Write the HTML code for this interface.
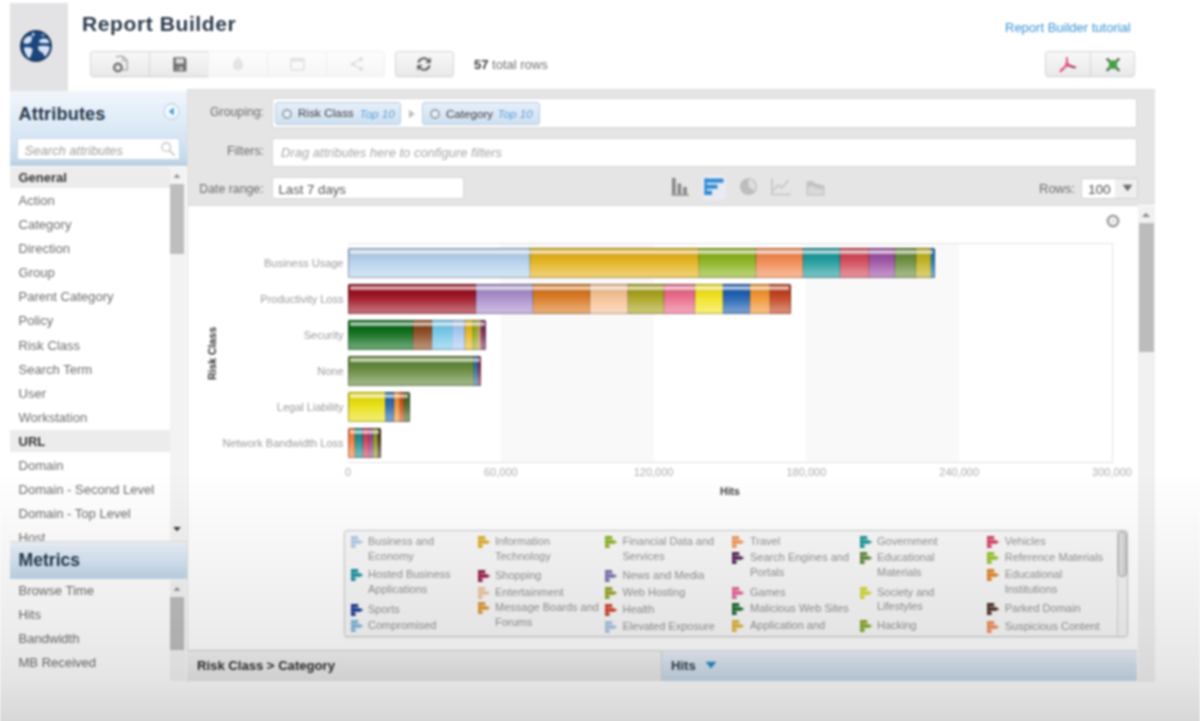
<!DOCTYPE html>
<html>
<head>
<meta charset="utf-8">
<title>Report Builder</title>
<style>
*{box-sizing:border-box;margin:0;padding:0}
html,body{width:1200px;height:721px;overflow:hidden}
body{font-family:"Liberation Sans",sans-serif;color:#555;background:#fff;position:relative}
.a,.t{position:absolute}
.t{white-space:nowrap}
svg{position:absolute;overflow:visible}
#w{position:absolute;left:0;top:0;width:1200px;height:741px;overflow:hidden;filter:blur(.9px)}
.btn{position:absolute;top:51px;height:26px;border:1px solid #d6d6d6;background:linear-gradient(#f8f8f8,#e9e9e9);box-shadow:0 1px 1px rgba(0,0,0,.05)}
.btn.dis{border-color:#efefef;background:linear-gradient(#fdfdfd,#f6f6f6);box-shadow:none}
.box{position:absolute;background:#fff;border:1px solid #d6d6d6;border-radius:2px}
.chip{position:absolute;top:102px;height:23px;border:1px solid #b3cbe3;border-radius:3px;background:linear-gradient(#e6eff9,#cfe0f1)}
.seg{position:absolute;top:0;height:100%}
.bar{position:absolute;height:29.6px;left:348px;overflow:hidden;border-radius:1.5px}
.gloss{position:absolute;left:0;top:0;width:100%;height:100%;border-radius:2px;
 background:linear-gradient(to bottom,rgba(0,0,0,.08) 0,rgba(0,0,0,.07) 6px,rgba(0,0,0,.03) 10px,rgba(255,255,255,.1) 16px,rgba(255,255,255,.34) 25px,rgba(255,255,255,.36) 29px)}
.gloss:before{content:"";position:absolute;left:1.6px;right:1.6px;top:1.9px;height:3.8px;background:rgba(255,255,255,.6);border-radius:1px}
.gloss:after{content:"";position:absolute;left:0;top:0;right:0;bottom:0;border:1.6px solid rgba(0,0,0,.27);border-radius:2px}
</style>
</head>
<body>
<div id="w">
<div class="a" style="left:10px;top:3px;width:58px;height:88px;background:#e3e2e4"></div>
<svg style="left:19px;top:29.3px" width="34" height="34" viewBox="-17 -17 34 34">
<circle r="16.8" fill="#eef3f9"/>
<circle r="16" fill="#1b3657"/>
<circle r="14" fill="#1b467c"/>
<path d="M-12.6,-4 C-12,-8 -8.5,-10.2 -5.4,-10 C-3.6,-9.4 -4,-7 -4.4,-5.4 C-4.8,-3.6 -6.4,-2.4 -8.6,-2.2 C-10.4,-2 -12.2,-2.4 -12.6,-4 Z" fill="#d3e2f5"/>
<path d="M-12,1.6 C-9.6,1 -5.6,1.2 -3.6,2.8 C-3,5.4 -4.6,8 -5.4,10.2 C-6,12 -7.4,12.6 -8.4,11 C-10.4,8.4 -12,5 -12,1.6 Z" fill="#d9e4f6"/>
<path d="M3.4,-5.6 C4.6,-7.4 8,-7.8 10.4,-7.2 C12.4,-6.4 13.4,-4.6 13.2,-3 C10.4,-2.6 6.4,-2.6 3.6,-3.2 C3,-4 3,-4.8 3.4,-5.6 Z" fill="#cfdff3"/>
<path d="M2,0.4 C5,-0.6 10,-0.4 13.6,0.6 C14,3 13,5.4 11.8,7 C10.8,8.6 10,10.6 8.6,10.4 C7.6,9 7.6,7.4 6.2,6.6 C4,5.8 1.8,3.6 2,0.4 Z" fill="#d6e3f6"/>
<path d="M-3.8,-13.4 C-2.6,-13.8 -1.4,-13 -1.4,-11.6 C-1.6,-10.2 -2.8,-9.2 -3.6,-9.6 C-4.2,-10.8 -4.4,-12.4 -3.8,-13.4 Z" fill="#bcd3ee"/>
<path d="M5.4,-11.8 C6.6,-12.4 8.4,-12 9,-10.8 C8.2,-9.6 6.2,-9.4 5.4,-10.2 Z" fill="#7fa6d6"/>
</svg>
<div class="t" style="left:82px;top:12.72px;font-size:21px;line-height:1;color:#2a3a4b;font-weight:bold;letter-spacing:.6px;">Report Builder</div>
<div class="t" style="left:1005px;top:21.00px;font-size:13px;line-height:1;color:#3a93d6;">Report Builder tutorial</div>
<div class="btn" style="left:90px;width:60px;border-radius:3px 0 0 3px"></div>
<div class="btn" style="left:149px;width:60px"></div>
<div class="btn dis" style="left:208px;width:60px"></div>
<div class="btn dis" style="left:267px;width:60px"></div>
<div class="btn dis" style="left:326px;width:59px;border-radius:0 3px 3px 0"></div>
<div class="btn" style="left:395px;width:59px;border-radius:3px"></div>
<div class="btn" style="left:1045px;width:46px;border-radius:3px 0 0 3px"></div>
<div class="btn" style="left:1090px;width:45px;border-radius:0 3px 3px 0"></div>
<svg style="left:111px;top:55px" width="18" height="17" viewBox="0 0 18 17">
<path d="M5.2,2.2 L6.2,1.4 H12 L16.2,5.6 V14.8 H11" fill="none" stroke="#a3a3a3" stroke-width="1.3"/>
<path d="M11.8,1.6 V5.8 H16" fill="none" stroke="#a3a3a3" stroke-width="1.1"/>
<circle cx="6.9" cy="12.5" r="3.7" fill="none" stroke="#707070" stroke-width="2.4"/>
</svg>
<svg style="left:172.5px;top:56.6px" width="14" height="15" viewBox="0 0 14 15">
<path d="M0.3,0.6 Q0.3,0.2 0.8,0.2 H11.6 L13.4,2 V14 Q13.4,14.5 12.9,14.5 H0.8 Q0.3,14.5 0.3,14 Z" fill="#6c6c6c"/>
<rect x="2.8" y="1.6" width="8" height="5" fill="#dcdcdc"/>
<rect x="3.2" y="9" width="7.4" height="5.5" fill="#8a8a8a"/>
<rect x="7.4" y="10" width="1.9" height="3.4" fill="#d9d9d9"/>
</svg>
<svg style="left:231px;top:56px" width="14" height="16" viewBox="0 0 14 16"><path d="M7,1 C9,3 12,5.5 12,9.5 A5,5 0 0 1 2,9.5 C2,5.5 5,3 7,1 Z" fill="#e4e4e4"/></svg>
<svg style="left:290px;top:57px" width="15" height="14" viewBox="0 0 15 14"><rect x="1" y="1.5" width="13" height="11.5" rx="1.5" fill="none" stroke="#e2e2e2" stroke-width="1.6"/><rect x="1" y="1.5" width="13" height="3" fill="#e2e2e2"/></svg>
<svg style="left:349px;top:56px" width="15" height="16" viewBox="0 0 15 16"><path d="M12,3 L3.5,8 L12,13" fill="none" stroke="#e0e0e0" stroke-width="1.5"/><circle cx="12" cy="3" r="2.2" fill="#e0e0e0"/><circle cx="3.5" cy="8" r="2.2" fill="#e0e0e0"/><circle cx="12" cy="13" r="2.2" fill="#e0e0e0"/></svg>
<svg style="left:416px;top:56px" width="16" height="16" viewBox="-8 -8 16 16">
<path d="M-5.6,-1.2 A5.7,5.7 0 0 1 4.2,-3.9" fill="none" stroke="#5e5e5e" stroke-width="2.1"/>
<path d="M5.6,1.2 A5.7,5.7 0 0 1 -4.2,3.9" fill="none" stroke="#5e5e5e" stroke-width="2.1"/>
<path d="M6.8,-6.6 V-1 H1.2 Z" fill="#5e5e5e"/>
<path d="M-6.8,6.6 V1 H-1.2 Z" fill="#5e5e5e"/>
</svg>
<div class="t" style="left:474px;top:58.00px;font-size:13px;line-height:1;color:#707070;"><b style='color:#3a3a3a'>57</b> total rows</div>
<svg style="left:1058px;top:56px" width="20" height="18" viewBox="0 0 20 18">
<path d="M8.6,0.8 C10,0.6 10.2,2.8 9.8,5.4 C10.6,7.6 12,9 14.2,9.8 C16.4,10.2 18.6,10.6 18.2,11.8 C17.6,12.8 15.4,12.2 13.4,11.4 C11.6,10.8 9.8,10.6 8,11.2 C6.2,13.2 3.8,16.4 1.9,16.2 C0.4,15.6 2.4,12.8 6,10.8 C7.2,8.6 7.9,6.4 8.1,4.4 C7.7,2.6 7.7,1.1 8.6,0.8 Z" fill="#e0527f"/>
<path d="M11.6,8.6 C13.2,9.6 16.4,10 18.2,11 C18.4,12.4 16.4,12.4 13.6,11.4 C12.4,11 11.4,10.4 10.8,9.8 Z" fill="#8e3557" opacity=".8"/>
</svg>
<svg style="left:1105.8px;top:57.6px" width="14" height="13.4" viewBox="0 0 16 15">
<path d="M1.6,1.2 L14.4,13.8 M14.4,1.2 L1.6,13.8" stroke="#4b6d4b" stroke-width="2.8" stroke-linecap="round"/>
<path d="M8,1.6 L13.2,7.5 L8,13.4 L2.8,7.5 Z" fill="#3ea23e"/>
<rect x="4" y="3.6" width="8" height="7.8" rx="1" fill="#3ea23e" opacity=".85"/>
</svg>
<div class="a" style="left:10px;top:91px;width:177px;height:590px;background:#fff"></div>
<div class="a" style="left:10px;top:91px;width:177px;height:75px;background:linear-gradient(#f1f6fc 0,#e2edf8 35%,#d3e3f2 70%,#c4d9ea 92%,#b7cddf 100%)"></div>
<div class="t" style="left:18.5px;top:104.51px;font-size:18px;line-height:1;color:#24374b;font-weight:bold;letter-spacing:.2px;">Attributes</div>
<svg style="left:163px;top:103px" width="17" height="17" viewBox="-8.5 -8.5 17 17">
<circle r="7.6" fill="#f4f9fd" stroke="#b9d3ea" stroke-width="1.2"/>
<path d="M2.2,-4 L-2.6,0 L2.2,4 Z" fill="#3b98d8"/>
</svg>
<div class="a" style="left:17px;top:138px;width:163px;height:22px;background:#fff;border:1px solid #c3d7e8;border-radius:2px"></div>
<div class="t" style="left:24.5px;top:144.00px;font-size:13px;line-height:1;color:#a3a3a3;font-style:italic;">Search attributes</div>
<svg style="left:160px;top:141px" width="16" height="16" viewBox="0 0 16 16"><circle cx="6.2" cy="6.2" r="4.3" fill="none" stroke="#cdcdcd" stroke-width="1.6"/><path d="M9.4,9.4 L14,14" stroke="#cdcdcd" stroke-width="2" stroke-linecap="round"/></svg>
<div class="a" style="left:10px;top:167px;width:160px;height:21px;background:#ececec"></div>
<div class="t" style="left:18.5px;top:171.00px;font-size:13px;line-height:1;color:#333;font-weight:bold;">General</div>
<div class="t" style="left:18.5px;top:193.85px;font-size:13.05px;line-height:1;color:#6c6c6c;">Action</div>
<div class="t" style="left:18.5px;top:217.97px;font-size:13.05px;line-height:1;color:#6c6c6c;">Category</div>
<div class="t" style="left:18.5px;top:242.09px;font-size:13.05px;line-height:1;color:#6c6c6c;">Direction</div>
<div class="t" style="left:18.5px;top:266.21px;font-size:13.05px;line-height:1;color:#6c6c6c;">Group</div>
<div class="t" style="left:18.5px;top:290.33px;font-size:13.05px;line-height:1;color:#6c6c6c;">Parent Category</div>
<div class="t" style="left:18.5px;top:314.45px;font-size:13.05px;line-height:1;color:#6c6c6c;">Policy</div>
<div class="t" style="left:18.5px;top:338.57px;font-size:13.05px;line-height:1;color:#6c6c6c;">Risk Class</div>
<div class="t" style="left:18.5px;top:362.69px;font-size:13.05px;line-height:1;color:#6c6c6c;">Search Term</div>
<div class="t" style="left:18.5px;top:386.81px;font-size:13.05px;line-height:1;color:#6c6c6c;">User</div>
<div class="t" style="left:18.5px;top:410.93px;font-size:13.05px;line-height:1;color:#6c6c6c;">Workstation</div>
<div class="a" style="left:10px;top:430px;width:160px;height:22px;background:#ececec"></div>
<div class="t" style="left:18.5px;top:435.40px;font-size:13px;line-height:1;color:#333;font-weight:bold;">URL</div>
<div class="t" style="left:18.5px;top:458.55px;font-size:13.05px;line-height:1;color:#6c6c6c;">Domain</div>
<div class="t" style="left:18.5px;top:482.60px;font-size:13.05px;line-height:1;color:#6c6c6c;">Domain - Second Level</div>
<div class="t" style="left:18.5px;top:506.65px;font-size:13.05px;line-height:1;color:#6c6c6c;">Domain - Top Level</div>
<div class="t" style="left:18.5px;top:530.70px;font-size:13.05px;line-height:1;color:#6c6c6c;">Host</div>
<div class="a" style="left:170px;top:167px;width:16px;height:374px;background:#f3f3f3"></div>
<div class="a" style="left:170px;top:184px;width:14px;height:70px;background:#bebebe"></div>
<svg style="left:172px;top:172px" width="10" height="8" viewBox="0 0 10 8"><path d="M5,2 L8.4,5.8 H1.6 Z" fill="#8a8a8a"/></svg>
<svg style="left:172px;top:525px" width="10" height="8" viewBox="0 0 10 8"><path d="M1.2,2 H8.8 L5,6.2 Z" fill="#333"/></svg>
<div class="a" style="left:10px;top:540.5px;width:177px;height:38.5px;background:linear-gradient(#f2f6fb 0,#e6eff8 12%,#d7e6f4 50%,#bfd5e8 100%);border-top:1px solid #dcdcdc"></div>
<div class="t" style="left:18.5px;top:551.60px;font-size:17.6px;line-height:1;color:#24374b;font-weight:bold;">Metrics</div>
<div class="t" style="left:18.5px;top:583.75px;font-size:13.05px;line-height:1;color:#6c6c6c;">Browse Time</div>
<div class="t" style="left:18.5px;top:607.95px;font-size:13.05px;line-height:1;color:#6c6c6c;">Hits</div>
<div class="t" style="left:18.5px;top:632.15px;font-size:13.05px;line-height:1;color:#6c6c6c;">Bandwidth</div>
<div class="t" style="left:18.5px;top:656.35px;font-size:13.05px;line-height:1;color:#6c6c6c;">MB Received</div>
<div class="a" style="left:170px;top:580px;width:16px;height:101px;background:#f3f3f3"></div>
<div class="a" style="left:170px;top:597px;width:14px;height:53px;background:#bebebe"></div>
<svg style="left:172px;top:585px" width="10" height="8" viewBox="0 0 10 8"><path d="M5,2 L8.4,5.8 H1.6 Z" fill="#8a8a8a"/></svg>
<div class="a" style="left:187px;top:90px;width:968px;height:592px;background:#ffffff"></div>
<div class="a" style="left:187px;top:89px;width:968px;height:116px;background:#e5e5e6;border-top:1px solid #dcdcdc"></div>
<div class="a" style="left:187px;top:205px;width:951px;height:1px;background:#d9d9d9"></div>
<div class="a" style="left:187px;top:90px;width:1px;height:592px;background:#dcdcdc"></div>
<div class="t" style="left:174px;width:90px;text-align:right;top:105.99px;font-size:12.3px;line-height:1;color:#6b6b6b;">Grouping:</div>
<div class="t" style="left:174px;width:90px;text-align:right;top:145.19px;font-size:12.3px;line-height:1;color:#6b6b6b;">Filters:</div>
<div class="t" style="left:173.60000000000002px;width:90px;text-align:right;top:182.69px;font-size:12.3px;line-height:1;color:#6b6b6b;">Date range:</div>
<div class="box" style="left:272px;top:98px;width:865px;height:30px"></div>
<div class="box" style="left:272px;top:138px;width:865px;height:29px"></div>
<div class="box" style="left:272px;top:177px;width:192px;height:22px"></div>
<div class="t" style="left:281px;top:146.00px;font-size:13px;line-height:1;color:#a5a5a5;font-style:italic;">Drag attributes here to configure filters</div>
<div class="t" style="left:278.5px;top:182.83px;font-size:13.2px;line-height:1;color:#555;">Last 7 days</div>
<div class="chip" style="left:275px;width:126px"></div>
<div class="chip" style="left:422px;width:118px"></div>
<svg style="left:281px;top:107.8px" width="12" height="12" viewBox="-6 -6 12 12"><circle r="4.1" fill="#e8eff7" stroke="#969ea6" stroke-width="1.7"/></svg>
<svg style="left:428.5px;top:107.8px" width="12" height="12" viewBox="-6 -6 12 12"><circle r="4.1" fill="#e8eff7" stroke="#969ea6" stroke-width="1.7"/></svg>
<div class="t" style="left:298px;top:108.31px;font-size:11.8px;line-height:1;color:#3a3a3a;">Risk Class</div>
<div class="t" style="left:359.5px;top:108.40px;font-size:11.7px;line-height:1;color:#5b9fd6;font-style:italic;">Top 10</div>
<div class="t" style="left:446px;top:108.48px;font-size:11.6px;line-height:1;color:#3a3a3a;">Category</div>
<div class="t" style="left:497.5px;top:108.40px;font-size:11.7px;line-height:1;color:#5b9fd6;font-style:italic;">Top 10</div>
<svg style="left:408px;top:109px" width="8" height="10" viewBox="0 0 8 10"><path d="M1,0.8 L7,5 L1,9.2 Z" fill="#bdbdbd"/></svg>
<svg style="left:671px;top:177px" width="19" height="20" viewBox="0 0 19 20">
<rect x="1" y="1" width="3.6" height="16" fill="#868686"/><rect x="6.6" y="6.5" width="3.6" height="10.5" fill="#868686"/><rect x="12.2" y="10" width="3.6" height="7" fill="#868686"/><rect x="0.5" y="17" width="17.5" height="1.8" fill="#9a9a9a"/></svg>
<div class="a" style="left:702px;top:175px;width:24px;height:25px;background:#e9eaf2;border-radius:3px"></div>
<svg style="left:704px;top:178px" width="20" height="18" viewBox="0 0 20 18">
<rect x="0.5" y="0.5" width="19" height="4.2" fill="#2f8cd6"/><rect x="0.5" y="6.6" width="13" height="4.2" fill="#2f8cd6"/><rect x="0.5" y="12.7" width="7.5" height="4.2" fill="#2f8cd6"/><rect x="0.5" y="0.5" width="2.4" height="16.4" fill="#2f8cd6"/></svg>
<svg style="left:739px;top:177px" width="19" height="19" viewBox="-9.5 -9.5 19 19">
<circle r="8.6" fill="#bdbdbd"/><path d="M0,0 L0,-7.2 A7.2,7.2 0 0 1 5.6,4.5 Z" fill="#dedede"/></svg>
<svg style="left:771px;top:178px" width="20" height="18" viewBox="0 0 20 18">
<path d="M1,0.5 V16.5 H19.5" fill="none" stroke="#c2c2c2" stroke-width="1.6"/><path d="M2.5,12.5 L7,7 L10.5,10 L17.5,2.5" fill="none" stroke="#c2c2c2" stroke-width="1.5"/></svg>
<svg style="left:806px;top:179px" width="19" height="17" viewBox="0 0 19 17">
<path d="M0.5,16.5 V3 L5,1.5 L10,4.5 L18.5,6.5 V16.5 Z" fill="#c3c3c3"/><path d="M1.8,15.2 V8.5 L6,7 L11,9.5 L17.2,10.5 V15.2 Z" fill="#d9d9d9"/></svg>
<div class="t" style="left:1039px;top:182.00px;font-size:13px;line-height:1;color:#6b6b6b;">Rows:</div>
<div class="box" style="left:1081px;top:178px;width:57px;height:21px;border-color:#d0d0d0"></div>
<div class="a" style="left:1115px;top:179px;width:22px;height:19px;background:#efefef"></div>
<div class="t" style="left:1088px;top:182.87px;font-size:13.5px;line-height:1;color:#555;">100</div>
<svg style="left:1122px;top:184px" width="11" height="8" viewBox="0 0 11 8"><path d="M0.6,0.8 H10.4 L5.5,7.2 Z" fill="#6a6a6a"/></svg>
<div class="a" style="left:1138px;top:206px;width:17px;height:476px;background:#f1f1f1"></div>
<div class="a" style="left:1138.5px;top:223px;width:15px;height:129px;background:#bcbcbc"></div>
<svg style="left:1141px;top:211px" width="10" height="8" viewBox="0 0 10 8"><path d="M5,1.8 L9,6 H1 Z" fill="#8a8a8a"/></svg>
<svg style="left:1106px;top:214px" width="14" height="14" viewBox="-7 -7 14 14"><circle r="5.2" fill="none" stroke="#a0a0a0" stroke-width="2.6"/><circle r="1.6" fill="#c9c9c9"/></svg>
<div class="a" style="left:348px;top:243px;width:765px;height:220px;border:1px solid #e2e2e2;border-left-color:#f6f6f6;background:#fff"></div>
<div class="a" style="left:500.8px;top:244px;width:152.8px;height:218px;background:#f9f9f9"></div>
<div class="a" style="left:806.4px;top:244px;width:152.8px;height:218px;background:#f9f9f9"></div>
<div class="bar" style="left:348px;top:248.4px;width:587.0px">
<div class="seg" style="left:0.0px;width:181.8px;background:#b6d1ee;box-shadow:inset -1px 0 0 rgba(0,0,0,.2),inset 1px 0 0 rgba(0,0,0,.08)"></div>
<div class="seg" style="left:181.5px;width:169.6px;background:#e3b21c;box-shadow:inset -1px 0 0 rgba(0,0,0,.2),inset 1px 0 0 rgba(0,0,0,.08)"></div>
<div class="seg" style="left:350.8px;width:57.5px;background:#8cb31f;box-shadow:inset -1px 0 0 rgba(0,0,0,.2),inset 1px 0 0 rgba(0,0,0,.08)"></div>
<div class="seg" style="left:408.0px;width:47.3px;background:#f28a52;box-shadow:inset -1px 0 0 rgba(0,0,0,.2),inset 1px 0 0 rgba(0,0,0,.08)"></div>
<div class="seg" style="left:455.0px;width:37.3px;background:#1f9b9d;box-shadow:inset -1px 0 0 rgba(0,0,0,.2),inset 1px 0 0 rgba(0,0,0,.08)"></div>
<div class="seg" style="left:492.0px;width:29.1px;background:#d24a5a;box-shadow:inset -1px 0 0 rgba(0,0,0,.2),inset 1px 0 0 rgba(0,0,0,.08)"></div>
<div class="seg" style="left:520.8px;width:26.5px;background:#9d52a4;box-shadow:inset -1px 0 0 rgba(0,0,0,.2),inset 1px 0 0 rgba(0,0,0,.08)"></div>
<div class="seg" style="left:547.0px;width:21.3px;background:#6b8e3e;box-shadow:inset -1px 0 0 rgba(0,0,0,.2),inset 1px 0 0 rgba(0,0,0,.08)"></div>
<div class="seg" style="left:568.0px;width:15.3px;background:#bfb21f;box-shadow:inset -1px 0 0 rgba(0,0,0,.2),inset 1px 0 0 rgba(0,0,0,.08)"></div>
<div class="seg" style="left:583.0px;width:4.3px;background:#1f7fc0;box-shadow:inset -1px 0 0 rgba(0,0,0,.2),inset 1px 0 0 rgba(0,0,0,.08)"></div>
<div class="gloss"></div></div>
<div class="t" style="left:143.5px;width:200px;text-align:right;top:257.99px;font-size:11px;line-height:1;color:#9a9a9a;">Business Usage</div>
<div class="bar" style="left:348px;top:284.4px;width:443.0px">
<div class="seg" style="left:0.0px;width:128.1px;background:#9d1222;box-shadow:inset -1px 0 0 rgba(0,0,0,.2),inset 1px 0 0 rgba(0,0,0,.08)"></div>
<div class="seg" style="left:127.8px;width:57.0px;background:#a98ecb;box-shadow:inset -1px 0 0 rgba(0,0,0,.2),inset 1px 0 0 rgba(0,0,0,.08)"></div>
<div class="seg" style="left:184.5px;width:57.3px;background:#d9781f;box-shadow:inset -1px 0 0 rgba(0,0,0,.2),inset 1px 0 0 rgba(0,0,0,.08)"></div>
<div class="seg" style="left:241.5px;width:38.8px;background:#f5c193;box-shadow:inset -1px 0 0 rgba(0,0,0,.2),inset 1px 0 0 rgba(0,0,0,.08)"></div>
<div class="seg" style="left:280.0px;width:36.1px;background:#a9a31f;box-shadow:inset -1px 0 0 rgba(0,0,0,.2),inset 1px 0 0 rgba(0,0,0,.08)"></div>
<div class="seg" style="left:315.8px;width:31.5px;background:#e96a8a;box-shadow:inset -1px 0 0 rgba(0,0,0,.2),inset 1px 0 0 rgba(0,0,0,.08)"></div>
<div class="seg" style="left:347.0px;width:28.3px;background:#f2e31f;box-shadow:inset -1px 0 0 rgba(0,0,0,.2),inset 1px 0 0 rgba(0,0,0,.08)"></div>
<div class="seg" style="left:375.0px;width:27.3px;background:#1f60b2;box-shadow:inset -1px 0 0 rgba(0,0,0,.2),inset 1px 0 0 rgba(0,0,0,.08)"></div>
<div class="seg" style="left:402.0px;width:19.8px;background:#f29432;box-shadow:inset -1px 0 0 rgba(0,0,0,.2),inset 1px 0 0 rgba(0,0,0,.08)"></div>
<div class="seg" style="left:421.5px;width:21.8px;background:#c2421f;box-shadow:inset -1px 0 0 rgba(0,0,0,.2),inset 1px 0 0 rgba(0,0,0,.08)"></div>
<div class="gloss"></div></div>
<div class="t" style="left:143.5px;width:200px;text-align:right;top:293.99px;font-size:11px;line-height:1;color:#9a9a9a;">Productivity Loss</div>
<div class="bar" style="left:348px;top:320.4px;width:138.3px">
<div class="seg" style="left:0.0px;width:65.1px;background:#0d6d1b;box-shadow:inset -1px 0 0 rgba(0,0,0,.2),inset 1px 0 0 rgba(0,0,0,.08)"></div>
<div class="seg" style="left:64.8px;width:19.5px;background:#8d4b22;box-shadow:inset -1px 0 0 rgba(0,0,0,.2),inset 1px 0 0 rgba(0,0,0,.08)"></div>
<div class="seg" style="left:84.0px;width:20.7px;background:#77c9ea;box-shadow:inset -1px 0 0 rgba(0,0,0,.2),inset 1px 0 0 rgba(0,0,0,.08)"></div>
<div class="seg" style="left:104.4px;width:12.9px;background:#a9c9f2;box-shadow:inset -1px 0 0 rgba(0,0,0,.2),inset 1px 0 0 rgba(0,0,0,.08)"></div>
<div class="seg" style="left:117.0px;width:8.3px;background:#e9b91f;box-shadow:inset -1px 0 0 rgba(0,0,0,.2),inset 1px 0 0 rgba(0,0,0,.08)"></div>
<div class="seg" style="left:125.0px;width:4.7px;background:#8cb31f;box-shadow:inset -1px 0 0 rgba(0,0,0,.2),inset 1px 0 0 rgba(0,0,0,.08)"></div>
<div class="seg" style="left:129.4px;width:3.9px;background:#c9a262;box-shadow:inset -1px 0 0 rgba(0,0,0,.2),inset 1px 0 0 rgba(0,0,0,.08)"></div>
<div class="seg" style="left:133.0px;width:5.6px;background:#7d2f62;box-shadow:inset -1px 0 0 rgba(0,0,0,.2),inset 1px 0 0 rgba(0,0,0,.08)"></div>
<div class="gloss"></div></div>
<div class="t" style="left:143.5px;width:200px;text-align:right;top:329.99px;font-size:11px;line-height:1;color:#9a9a9a;">Security</div>
<div class="bar" style="left:348px;top:356.4px;width:133.2px">
<div class="seg" style="left:0.0px;width:126.3px;background:#63883a;box-shadow:inset -1px 0 0 rgba(0,0,0,.2),inset 1px 0 0 rgba(0,0,0,.08)"></div>
<div class="seg" style="left:126.0px;width:4.3px;background:#2f72b3;box-shadow:inset -1px 0 0 rgba(0,0,0,.2),inset 1px 0 0 rgba(0,0,0,.08)"></div>
<div class="seg" style="left:130.0px;width:3.5px;background:#8f2f52;box-shadow:inset -1px 0 0 rgba(0,0,0,.2),inset 1px 0 0 rgba(0,0,0,.08)"></div>
<div class="gloss"></div></div>
<div class="t" style="left:143.5px;width:200px;text-align:right;top:365.99px;font-size:11px;line-height:1;color:#9a9a9a;">None</div>
<div class="bar" style="left:348px;top:392.4px;width:62.0px">
<div class="seg" style="left:0.0px;width:37.7px;background:#e9e010;box-shadow:inset -1px 0 0 rgba(0,0,0,.2),inset 1px 0 0 rgba(0,0,0,.08)"></div>
<div class="seg" style="left:37.4px;width:8.6px;background:#2a69b2;box-shadow:inset -1px 0 0 rgba(0,0,0,.2),inset 1px 0 0 rgba(0,0,0,.08)"></div>
<div class="seg" style="left:45.7px;width:6.6px;background:#f29332;box-shadow:inset -1px 0 0 rgba(0,0,0,.2),inset 1px 0 0 rgba(0,0,0,.08)"></div>
<div class="seg" style="left:52.0px;width:4.3px;background:#d2521f;box-shadow:inset -1px 0 0 rgba(0,0,0,.2),inset 1px 0 0 rgba(0,0,0,.08)"></div>
<div class="seg" style="left:56.0px;width:6.3px;background:#4b6b2b;box-shadow:inset -1px 0 0 rgba(0,0,0,.2),inset 1px 0 0 rgba(0,0,0,.08)"></div>
<div class="gloss"></div></div>
<div class="t" style="left:143.5px;width:200px;text-align:right;top:401.99px;font-size:11px;line-height:1;color:#9a9a9a;">Legal Liability</div>
<div class="bar" style="left:348px;top:428.4px;width:33.0px">
<div class="seg" style="left:0.0px;width:7.3px;background:#f2813f;box-shadow:inset -1px 0 0 rgba(0,0,0,.2),inset 1px 0 0 rgba(0,0,0,.08)"></div>
<div class="seg" style="left:7.0px;width:8.3px;background:#1f9192;box-shadow:inset -1px 0 0 rgba(0,0,0,.2),inset 1px 0 0 rgba(0,0,0,.08)"></div>
<div class="seg" style="left:15.0px;width:6.3px;background:#d2415f;box-shadow:inset -1px 0 0 rgba(0,0,0,.2),inset 1px 0 0 rgba(0,0,0,.08)"></div>
<div class="seg" style="left:21.0px;width:4.3px;background:#a24a92;box-shadow:inset -1px 0 0 rgba(0,0,0,.2),inset 1px 0 0 rgba(0,0,0,.08)"></div>
<div class="seg" style="left:25.0px;width:5.3px;background:#8a9a2f;box-shadow:inset -1px 0 0 rgba(0,0,0,.2),inset 1px 0 0 rgba(0,0,0,.08)"></div>
<div class="seg" style="left:30.0px;width:3.3px;background:#5a381f;box-shadow:inset -1px 0 0 rgba(0,0,0,.2),inset 1px 0 0 rgba(0,0,0,.08)"></div>
<div class="gloss"></div></div>
<div class="t" style="left:143.5px;width:200px;text-align:right;top:437.99px;font-size:11px;line-height:1;color:#9a9a9a;">Network Bandwidth Loss</div>
<div class="t" style="left:248.0px;width:200px;text-align:center;top:467.19px;font-size:11px;line-height:1;color:#adadad;">0</div>
<div class="t" style="left:400.8px;width:200px;text-align:center;top:467.19px;font-size:11px;line-height:1;color:#adadad;">60,000</div>
<div class="t" style="left:553.6px;width:200px;text-align:center;top:467.19px;font-size:11px;line-height:1;color:#adadad;">120,000</div>
<div class="t" style="left:706.4000000000001px;width:200px;text-align:center;top:467.19px;font-size:11px;line-height:1;color:#adadad;">180,000</div>
<div class="t" style="left:859.2px;width:200px;text-align:center;top:467.19px;font-size:11px;line-height:1;color:#adadad;">240,000</div>
<div class="t" style="left:1012.0px;width:200px;text-align:center;top:467.19px;font-size:11px;line-height:1;color:#adadad;">300,000</div>
<div class="t" style="left:630px;width:200px;text-align:center;top:486.41px;font-size:10.5px;line-height:1;color:#3a3a3a;font-weight:bold;">Hits</div>
<div class="t" style="left:162px;top:347.5px;width:100px;text-align:center;font-size:10.5px;line-height:11px;font-weight:bold;color:#2e2e2e;transform:rotate(-90deg);transform-origin:50% 50%">Risk Class</div>
<div class="a" style="left:344px;top:530px;width:784px;height:107px;border:1px solid #c9c9c9;border-radius:3px;background:#f8f8f8;box-shadow:0 1px 2px rgba(0,0,0,.08)"></div>
<svg style="left:351px;top:535.5px" width="13" height="12" viewBox="0 0 13 12"><rect x="0" y="0" width="7.2" height="3.5" fill="#b4cbe6"/><rect x="0" y="4.2" width="8.6" height="3.6" fill="#b4cbe6"/><path d="M8.2,3.7 L12.4,6 L8.2,8.3 Z" fill="#b4cbe6"/><rect x="0" y="8.5" width="4.6" height="3.4" fill="#b4cbe6"/><rect x="0" y="0" width="2.6" height="11.9" fill="#b4cbe6" opacity=".75"/></svg>
<div class="t" style="left:368px;top:535.69px;font-size:11px;line-height:1;color:#929292;">Business and</div>
<div class="t" style="left:368px;top:550.69px;font-size:11px;line-height:1;color:#929292;">Economy</div>
<svg style="left:351px;top:568.5px" width="13" height="12" viewBox="0 0 13 12"><rect x="0" y="0" width="7.2" height="3.5" fill="#2191a6"/><rect x="0" y="4.2" width="8.6" height="3.6" fill="#2191a6"/><path d="M8.2,3.7 L12.4,6 L8.2,8.3 Z" fill="#2191a6"/><rect x="0" y="8.5" width="4.6" height="3.4" fill="#2191a6"/><rect x="0" y="0" width="2.6" height="11.9" fill="#2191a6" opacity=".75"/></svg>
<div class="t" style="left:368px;top:568.69px;font-size:11px;line-height:1;color:#929292;">Hosted Business</div>
<div class="t" style="left:368px;top:583.69px;font-size:11px;line-height:1;color:#929292;">Applications</div>
<svg style="left:351px;top:603.5px" width="13" height="12" viewBox="0 0 13 12"><rect x="0" y="0" width="7.2" height="3.5" fill="#1f3f97"/><rect x="0" y="4.2" width="8.6" height="3.6" fill="#1f3f97"/><path d="M8.2,3.7 L12.4,6 L8.2,8.3 Z" fill="#1f3f97"/><rect x="0" y="8.5" width="4.6" height="3.4" fill="#1f3f97"/><rect x="0" y="0" width="2.6" height="11.9" fill="#1f3f97" opacity=".75"/></svg>
<div class="t" style="left:368px;top:603.69px;font-size:11px;line-height:1;color:#929292;">Sports</div>
<svg style="left:351px;top:619.5px" width="13" height="12" viewBox="0 0 13 12"><rect x="0" y="0" width="7.2" height="3.5" fill="#7fb8da"/><rect x="0" y="4.2" width="8.6" height="3.6" fill="#7fb8da"/><path d="M8.2,3.7 L12.4,6 L8.2,8.3 Z" fill="#7fb8da"/><rect x="0" y="8.5" width="4.6" height="3.4" fill="#7fb8da"/><rect x="0" y="0" width="2.6" height="11.9" fill="#7fb8da" opacity=".75"/></svg>
<div class="t" style="left:368px;top:619.69px;font-size:11px;line-height:1;color:#929292;">Compromised</div>
<svg style="left:478px;top:535.5px" width="13" height="12" viewBox="0 0 13 12"><rect x="0" y="0" width="7.2" height="3.5" fill="#dcb033"/><rect x="0" y="4.2" width="8.6" height="3.6" fill="#dcb033"/><path d="M8.2,3.7 L12.4,6 L8.2,8.3 Z" fill="#dcb033"/><rect x="0" y="8.5" width="4.6" height="3.4" fill="#dcb033"/><rect x="0" y="0" width="2.6" height="11.9" fill="#dcb033" opacity=".75"/></svg>
<div class="t" style="left:495px;top:535.69px;font-size:11px;line-height:1;color:#929292;">Information</div>
<div class="t" style="left:495px;top:550.69px;font-size:11px;line-height:1;color:#929292;">Technology</div>
<svg style="left:478px;top:569.5px" width="13" height="12" viewBox="0 0 13 12"><rect x="0" y="0" width="7.2" height="3.5" fill="#9b1f4f"/><rect x="0" y="4.2" width="8.6" height="3.6" fill="#9b1f4f"/><path d="M8.2,3.7 L12.4,6 L8.2,8.3 Z" fill="#9b1f4f"/><rect x="0" y="8.5" width="4.6" height="3.4" fill="#9b1f4f"/><rect x="0" y="0" width="2.6" height="11.9" fill="#9b1f4f" opacity=".75"/></svg>
<div class="t" style="left:495px;top:569.69px;font-size:11px;line-height:1;color:#929292;">Shopping</div>
<svg style="left:478px;top:586.5px" width="13" height="12" viewBox="0 0 13 12"><rect x="0" y="0" width="7.2" height="3.5" fill="#efc7a3"/><rect x="0" y="4.2" width="8.6" height="3.6" fill="#efc7a3"/><path d="M8.2,3.7 L12.4,6 L8.2,8.3 Z" fill="#efc7a3"/><rect x="0" y="8.5" width="4.6" height="3.4" fill="#efc7a3"/><rect x="0" y="0" width="2.6" height="11.9" fill="#efc7a3" opacity=".75"/></svg>
<div class="t" style="left:495px;top:586.69px;font-size:11px;line-height:1;color:#929292;">Entertainment</div>
<svg style="left:478px;top:602.2px" width="13" height="12" viewBox="0 0 13 12"><rect x="0" y="0" width="7.2" height="3.5" fill="#dc9a3a"/><rect x="0" y="4.2" width="8.6" height="3.6" fill="#dc9a3a"/><path d="M8.2,3.7 L12.4,6 L8.2,8.3 Z" fill="#dc9a3a"/><rect x="0" y="8.5" width="4.6" height="3.4" fill="#dc9a3a"/><rect x="0" y="0" width="2.6" height="11.9" fill="#dc9a3a" opacity=".75"/></svg>
<div class="t" style="left:495px;top:602.39px;font-size:11px;line-height:1;color:#929292;">Message Boards and</div>
<div class="t" style="left:495px;top:617.39px;font-size:11px;line-height:1;color:#929292;">Forums</div>
<svg style="left:605px;top:535.5px" width="13" height="12" viewBox="0 0 13 12"><rect x="0" y="0" width="7.2" height="3.5" fill="#8db428"/><rect x="0" y="4.2" width="8.6" height="3.6" fill="#8db428"/><path d="M8.2,3.7 L12.4,6 L8.2,8.3 Z" fill="#8db428"/><rect x="0" y="8.5" width="4.6" height="3.4" fill="#8db428"/><rect x="0" y="0" width="2.6" height="11.9" fill="#8db428" opacity=".75"/></svg>
<div class="t" style="left:622.5px;top:535.69px;font-size:11px;line-height:1;color:#929292;">Financial Data and</div>
<div class="t" style="left:622.5px;top:550.69px;font-size:11px;line-height:1;color:#929292;">Services</div>
<svg style="left:605px;top:569.5px" width="13" height="12" viewBox="0 0 13 12"><rect x="0" y="0" width="7.2" height="3.5" fill="#7a77ad"/><rect x="0" y="4.2" width="8.6" height="3.6" fill="#7a77ad"/><path d="M8.2,3.7 L12.4,6 L8.2,8.3 Z" fill="#7a77ad"/><rect x="0" y="8.5" width="4.6" height="3.4" fill="#7a77ad"/><rect x="0" y="0" width="2.6" height="11.9" fill="#7a77ad" opacity=".75"/></svg>
<div class="t" style="left:622.5px;top:569.69px;font-size:11px;line-height:1;color:#929292;">News and Media</div>
<svg style="left:605px;top:586.5px" width="13" height="12" viewBox="0 0 13 12"><rect x="0" y="0" width="7.2" height="3.5" fill="#98a52a"/><rect x="0" y="4.2" width="8.6" height="3.6" fill="#98a52a"/><path d="M8.2,3.7 L12.4,6 L8.2,8.3 Z" fill="#98a52a"/><rect x="0" y="8.5" width="4.6" height="3.4" fill="#98a52a"/><rect x="0" y="0" width="2.6" height="11.9" fill="#98a52a" opacity=".75"/></svg>
<div class="t" style="left:622.5px;top:586.69px;font-size:11px;line-height:1;color:#929292;">Web Hosting</div>
<svg style="left:605px;top:603.5px" width="13" height="12" viewBox="0 0 13 12"><rect x="0" y="0" width="7.2" height="3.5" fill="#d2452f"/><rect x="0" y="4.2" width="8.6" height="3.6" fill="#d2452f"/><path d="M8.2,3.7 L12.4,6 L8.2,8.3 Z" fill="#d2452f"/><rect x="0" y="8.5" width="4.6" height="3.4" fill="#d2452f"/><rect x="0" y="0" width="2.6" height="11.9" fill="#d2452f" opacity=".75"/></svg>
<div class="t" style="left:622.5px;top:603.69px;font-size:11px;line-height:1;color:#929292;">Health</div>
<svg style="left:605px;top:620.5px" width="13" height="12" viewBox="0 0 13 12"><rect x="0" y="0" width="7.2" height="3.5" fill="#a9c3e2"/><rect x="0" y="4.2" width="8.6" height="3.6" fill="#a9c3e2"/><path d="M8.2,3.7 L12.4,6 L8.2,8.3 Z" fill="#a9c3e2"/><rect x="0" y="8.5" width="4.6" height="3.4" fill="#a9c3e2"/><rect x="0" y="0" width="2.6" height="11.9" fill="#a9c3e2" opacity=".75"/></svg>
<div class="t" style="left:622.5px;top:620.69px;font-size:11px;line-height:1;color:#929292;">Elevated Exposure</div>
<svg style="left:732px;top:535.5px" width="13" height="12" viewBox="0 0 13 12"><rect x="0" y="0" width="7.2" height="3.5" fill="#f09a5e"/><rect x="0" y="4.2" width="8.6" height="3.6" fill="#f09a5e"/><path d="M8.2,3.7 L12.4,6 L8.2,8.3 Z" fill="#f09a5e"/><rect x="0" y="8.5" width="4.6" height="3.4" fill="#f09a5e"/><rect x="0" y="0" width="2.6" height="11.9" fill="#f09a5e" opacity=".75"/></svg>
<div class="t" style="left:750px;top:535.69px;font-size:11px;line-height:1;color:#929292;">Travel</div>
<svg style="left:732px;top:551.5px" width="13" height="12" viewBox="0 0 13 12"><rect x="0" y="0" width="7.2" height="3.5" fill="#5a2a5a"/><rect x="0" y="4.2" width="8.6" height="3.6" fill="#5a2a5a"/><path d="M8.2,3.7 L12.4,6 L8.2,8.3 Z" fill="#5a2a5a"/><rect x="0" y="8.5" width="4.6" height="3.4" fill="#5a2a5a"/><rect x="0" y="0" width="2.6" height="11.9" fill="#5a2a5a" opacity=".75"/></svg>
<div class="t" style="left:750px;top:551.69px;font-size:11px;line-height:1;color:#929292;">Search Engines and</div>
<div class="t" style="left:750px;top:566.69px;font-size:11px;line-height:1;color:#929292;">Portals</div>
<svg style="left:732px;top:586.5px" width="13" height="12" viewBox="0 0 13 12"><rect x="0" y="0" width="7.2" height="3.5" fill="#e5659a"/><rect x="0" y="4.2" width="8.6" height="3.6" fill="#e5659a"/><path d="M8.2,3.7 L12.4,6 L8.2,8.3 Z" fill="#e5659a"/><rect x="0" y="8.5" width="4.6" height="3.4" fill="#e5659a"/><rect x="0" y="0" width="2.6" height="11.9" fill="#e5659a" opacity=".75"/></svg>
<div class="t" style="left:750px;top:586.69px;font-size:11px;line-height:1;color:#929292;">Games</div>
<svg style="left:732px;top:603.0px" width="13" height="12" viewBox="0 0 13 12"><rect x="0" y="0" width="7.2" height="3.5" fill="#1f6a33"/><rect x="0" y="4.2" width="8.6" height="3.6" fill="#1f6a33"/><path d="M8.2,3.7 L12.4,6 L8.2,8.3 Z" fill="#1f6a33"/><rect x="0" y="8.5" width="4.6" height="3.4" fill="#1f6a33"/><rect x="0" y="0" width="2.6" height="11.9" fill="#1f6a33" opacity=".75"/></svg>
<div class="t" style="left:750px;top:603.19px;font-size:11px;line-height:1;color:#929292;">Malicious Web Sites</div>
<svg style="left:732px;top:619.5px" width="13" height="12" viewBox="0 0 13 12"><rect x="0" y="0" width="7.2" height="3.5" fill="#dcb443"/><rect x="0" y="4.2" width="8.6" height="3.6" fill="#dcb443"/><path d="M8.2,3.7 L12.4,6 L8.2,8.3 Z" fill="#dcb443"/><rect x="0" y="8.5" width="4.6" height="3.4" fill="#dcb443"/><rect x="0" y="0" width="2.6" height="11.9" fill="#dcb443" opacity=".75"/></svg>
<div class="t" style="left:750px;top:619.69px;font-size:11px;line-height:1;color:#929292;">Application and</div>
<svg style="left:860px;top:535.5px" width="13" height="12" viewBox="0 0 13 12"><rect x="0" y="0" width="7.2" height="3.5" fill="#1f9797"/><rect x="0" y="4.2" width="8.6" height="3.6" fill="#1f9797"/><path d="M8.2,3.7 L12.4,6 L8.2,8.3 Z" fill="#1f9797"/><rect x="0" y="8.5" width="4.6" height="3.4" fill="#1f9797"/><rect x="0" y="0" width="2.6" height="11.9" fill="#1f9797" opacity=".75"/></svg>
<div class="t" style="left:877px;top:535.69px;font-size:11px;line-height:1;color:#929292;">Government</div>
<svg style="left:860px;top:551.5px" width="13" height="12" viewBox="0 0 13 12"><rect x="0" y="0" width="7.2" height="3.5" fill="#5f8a3c"/><rect x="0" y="4.2" width="8.6" height="3.6" fill="#5f8a3c"/><path d="M8.2,3.7 L12.4,6 L8.2,8.3 Z" fill="#5f8a3c"/><rect x="0" y="8.5" width="4.6" height="3.4" fill="#5f8a3c"/><rect x="0" y="0" width="2.6" height="11.9" fill="#5f8a3c" opacity=".75"/></svg>
<div class="t" style="left:877px;top:551.69px;font-size:11px;line-height:1;color:#929292;">Educational</div>
<div class="t" style="left:877px;top:566.69px;font-size:11px;line-height:1;color:#929292;">Materials</div>
<svg style="left:860px;top:586.5px" width="13" height="12" viewBox="0 0 13 12"><rect x="0" y="0" width="7.2" height="3.5" fill="#d5d83a"/><rect x="0" y="4.2" width="8.6" height="3.6" fill="#d5d83a"/><path d="M8.2,3.7 L12.4,6 L8.2,8.3 Z" fill="#d5d83a"/><rect x="0" y="8.5" width="4.6" height="3.4" fill="#d5d83a"/><rect x="0" y="0" width="2.6" height="11.9" fill="#d5d83a" opacity=".75"/></svg>
<div class="t" style="left:877px;top:586.69px;font-size:11px;line-height:1;color:#929292;">Society and</div>
<div class="t" style="left:877px;top:601.19px;font-size:11px;line-height:1;color:#929292;">Lifestyles</div>
<svg style="left:860px;top:619.5px" width="13" height="12" viewBox="0 0 13 12"><rect x="0" y="0" width="7.2" height="3.5" fill="#86a82a"/><rect x="0" y="4.2" width="8.6" height="3.6" fill="#86a82a"/><path d="M8.2,3.7 L12.4,6 L8.2,8.3 Z" fill="#86a82a"/><rect x="0" y="8.5" width="4.6" height="3.4" fill="#86a82a"/><rect x="0" y="0" width="2.6" height="11.9" fill="#86a82a" opacity=".75"/></svg>
<div class="t" style="left:877px;top:619.69px;font-size:11px;line-height:1;color:#929292;">Hacking</div>
<svg style="left:987px;top:535.5px" width="13" height="12" viewBox="0 0 13 12"><rect x="0" y="0" width="7.2" height="3.5" fill="#d4456a"/><rect x="0" y="4.2" width="8.6" height="3.6" fill="#d4456a"/><path d="M8.2,3.7 L12.4,6 L8.2,8.3 Z" fill="#d4456a"/><rect x="0" y="8.5" width="4.6" height="3.4" fill="#d4456a"/><rect x="0" y="0" width="2.6" height="11.9" fill="#d4456a" opacity=".75"/></svg>
<div class="t" style="left:1004.7px;top:535.69px;font-size:11px;line-height:1;color:#929292;">Vehicles</div>
<svg style="left:987px;top:551.5px" width="13" height="12" viewBox="0 0 13 12"><rect x="0" y="0" width="7.2" height="3.5" fill="#9cc22f"/><rect x="0" y="4.2" width="8.6" height="3.6" fill="#9cc22f"/><path d="M8.2,3.7 L12.4,6 L8.2,8.3 Z" fill="#9cc22f"/><rect x="0" y="8.5" width="4.6" height="3.4" fill="#9cc22f"/><rect x="0" y="0" width="2.6" height="11.9" fill="#9cc22f" opacity=".75"/></svg>
<div class="t" style="left:1004.7px;top:551.69px;font-size:11px;line-height:1;color:#929292;">Reference Materials</div>
<svg style="left:987px;top:568.5px" width="13" height="12" viewBox="0 0 13 12"><rect x="0" y="0" width="7.2" height="3.5" fill="#e0862f"/><rect x="0" y="4.2" width="8.6" height="3.6" fill="#e0862f"/><path d="M8.2,3.7 L12.4,6 L8.2,8.3 Z" fill="#e0862f"/><rect x="0" y="8.5" width="4.6" height="3.4" fill="#e0862f"/><rect x="0" y="0" width="2.6" height="11.9" fill="#e0862f" opacity=".75"/></svg>
<div class="t" style="left:1004.7px;top:568.69px;font-size:11px;line-height:1;color:#929292;">Educational</div>
<div class="t" style="left:1004.7px;top:583.69px;font-size:11px;line-height:1;color:#929292;">Institutions</div>
<svg style="left:987px;top:603.0px" width="13" height="12" viewBox="0 0 13 12"><rect x="0" y="0" width="7.2" height="3.5" fill="#4f3327"/><rect x="0" y="4.2" width="8.6" height="3.6" fill="#4f3327"/><path d="M8.2,3.7 L12.4,6 L8.2,8.3 Z" fill="#4f3327"/><rect x="0" y="8.5" width="4.6" height="3.4" fill="#4f3327"/><rect x="0" y="0" width="2.6" height="11.9" fill="#4f3327" opacity=".75"/></svg>
<div class="t" style="left:1004.7px;top:603.19px;font-size:11px;line-height:1;color:#929292;">Parked Domain</div>
<svg style="left:987px;top:620.5px" width="13" height="12" viewBox="0 0 13 12"><rect x="0" y="0" width="7.2" height="3.5" fill="#f08f5a"/><rect x="0" y="4.2" width="8.6" height="3.6" fill="#f08f5a"/><path d="M8.2,3.7 L12.4,6 L8.2,8.3 Z" fill="#f08f5a"/><rect x="0" y="8.5" width="4.6" height="3.4" fill="#f08f5a"/><rect x="0" y="0" width="2.6" height="11.9" fill="#f08f5a" opacity=".75"/></svg>
<div class="t" style="left:1004.7px;top:620.69px;font-size:11px;line-height:1;color:#929292;">Suspicious Content</div>
<div class="a" style="left:1117px;top:531px;width:10px;height:105px;border-left:1px solid #d2d2d2;background:#f4f4f4"></div>
<div class="a" style="left:1117.5px;top:531px;width:9.5px;height:46px;border:1px solid #a9a9a9;border-radius:4px;background:linear-gradient(to right,#e6e6e6,#cfcfcf)"></div>
<div class="a" style="left:187px;top:650px;width:950px;height:31px;background:linear-gradient(#f3f3f3,#e7e7e7);border-top:1px solid #d2d2d2"></div>
<div class="a" style="left:661px;top:650px;width:476px;height:31px;background:linear-gradient(#eaf0f7 0,#d7e3ef 50%,#c7d7e7 100%);border-top:1px solid #d3dae1;border-left:1px solid #cbd3db"></div>
<div class="t" style="left:197px;top:658.91px;font-size:13.1px;line-height:1;color:#2d2d2d;font-weight:bold;">Risk Class &gt; Category</div>
<div class="t" style="left:671px;top:658.91px;font-size:13.1px;line-height:1;color:#2d3a48;font-weight:bold;">Hits</div>
<svg style="left:705px;top:661px" width="12" height="8" viewBox="0 0 12 8"><path d="M0.5,0.8 H11.5 L6,7.4 Z" fill="#2a8cc6"/></svg>
<div class="a" style="left:0;top:0;width:1200px;height:741px;pointer-events:none;background:linear-gradient(to bottom,rgba(0,0,0,0) 0,rgba(0,0,0,0) 472px,rgba(0,0,0,.022) 520px,rgba(0,0,0,.05) 580px,rgba(0,0,0,.078) 640px,rgba(0,0,0,.1) 678px,rgba(0,0,0,.128) 700px,rgba(0,0,0,.155) 721px,rgba(0,0,0,.17) 741px)"></div>
</div>
</body>
</html>
